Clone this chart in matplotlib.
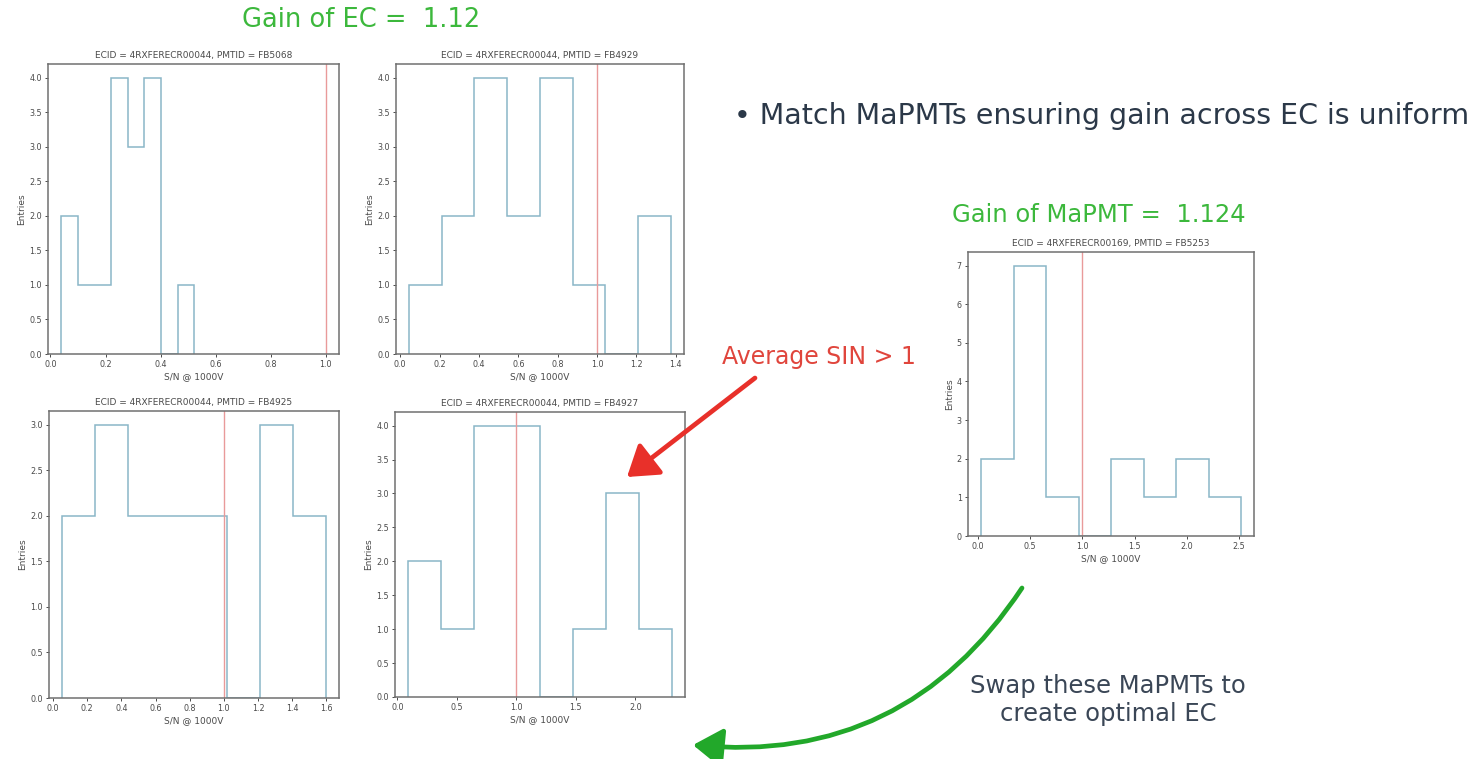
import matplotlib.pyplot as plt
from matplotlib.patches import FancyArrowPatch
from matplotlib.ticker import MultipleLocator

W, H = 1477, 759

# S/N histograms per MaPMT: bin edges and entries per bin
titles = [
    "ECID = 4RXFERECR00044, PMTID = FB5068",
    "ECID = 4RXFERECR00044, PMTID = FB4929",
    "ECID = 4RXFERECR00044, PMTID = FB4925",
    "ECID = 4RXFERECR00044, PMTID = FB4927",
    "ECID = 4RXFERECR00169, PMTID = FB5253",
]
edges_1 = [0.039, 0.100, 0.160, 0.220, 0.281, 0.341, 0.401, 0.462, 0.522]
counts_1 = [2, 1, 1, 4, 3, 4, 0, 1]
edges_2 = [0.045, 0.211, 0.377, 0.543, 0.710, 0.876, 1.042, 1.208, 1.375]
counts_2 = [1, 2, 4, 2, 4, 1, 0, 2]
edges_3 = [0.053, 0.246, 0.439, 0.632, 0.825, 1.018, 1.211, 1.404, 1.597]
counts_3 = [2, 3, 2, 2, 2, 0, 3, 2]
edges_4 = [0.090, 0.367, 0.644, 0.921, 1.198, 1.475, 1.752, 2.029, 2.306]
counts_4 = [2, 1, 4, 4, 0, 1, 3, 1]
edges_5 = [0.030, 0.341, 0.652, 0.963, 1.274, 1.585, 1.896, 2.207, 2.518]
counts_5 = [2, 7, 1, 0, 2, 1, 2, 1]
sn_cut = 1.0

hist_color = "#8ab6c8"
cut_color = "#e99a9a"
axis_color = "#707070"
text_color = "#4a4a4a"


def fig_box(left, top, right, bottom):
    return [left / W, 1 - bottom / H, (right - left) / W, (bottom - top) / H]


def fx(px):
    return px / W


def fy(py):
    return 1 - py / H


fig = plt.figure(figsize=(W / 100, H / 100), dpi=100)
fig.patch.set_facecolor("white")

panels = [
    (fig_box(48, 64, 339, 354), edges_1, counts_1, 0.2, 0.5),
    (fig_box(396, 64, 684, 354), edges_2, counts_2, 0.2, 0.5),
    (fig_box(49, 411, 339, 698), edges_3, counts_3, 0.2, 0.5),
    (fig_box(395, 412, 685, 697), edges_4, counts_4, 0.5, 0.5),
    (fig_box(968, 252, 1254, 536), edges_5, counts_5, 0.5, 1.0),
]

for (box, edges, counts, xstep, ystep), title in zip(panels, titles):
    ax = fig.add_axes(box)
    ax.stairs(counts, edges, color=hist_color, lw=1.1)
    ax.axvline(sn_cut, color=cut_color, lw=1.0)
    ax.xaxis.set_major_locator(MultipleLocator(xstep))
    ax.yaxis.set_major_locator(MultipleLocator(ystep))
    if ystep < 1:
        ax.yaxis.set_major_formatter("{x:.1f}")
    else:
        ax.yaxis.set_major_formatter("{x:.0f}")
    ax.xaxis.set_major_formatter("{x:.1f}")
    ax.set_title(title, fontsize=6.5, color=text_color, pad=4)
    ax.set_xlabel("S/N @ 1000V", fontsize=6.5, color=text_color, labelpad=2)
    ax.set_ylabel("Entries", fontsize=6.5, color=text_color, labelpad=2)
    ax.tick_params(labelsize=5.8, colors=text_color, length=2.5, width=0.7, pad=2)
    for s in ax.spines.values():
        s.set_color(axis_color)
        s.set_linewidth(1.1)

green = "#3cb83c"
fig.text(fx(361), fy(20), "Gain of EC =  1.12", color=green, fontsize=18.5,
         ha="center", va="center")
fig.text(fx(1099), fy(215), "Gain of MaPMT =  1.124", color=green, fontsize=17.5,
         ha="center", va="center")
fig.text(fx(1102), fy(116), "\u2022 Match MaPMTs ensuring gain across EC is uniform",
         color="#2b3848", fontsize=20.5, ha="center", va="center")
fig.text(fx(819), fy(357), "Average SIN > 1", color="#e0453c", fontsize=17,
         ha="center", va="center")
fig.text(fx(1108), fy(700), "Swap these MaPMTs to\ncreate optimal EC",
         color="#3a4656", fontsize=17.5, ha="center", va="center",
         linespacing=1.25)

# red pointer to the high S/N histogram
fig.add_artist(FancyArrowPatch(
    (fx(755), fy(378)), (fx(627), fy(477)), transform=fig.transFigure,
    arrowstyle="-|>,head_length=18,head_width=12", color="#e8302a",
    lw=3.4, shrinkA=0, shrinkB=0))

# green swap arrow
fig.add_artist(FancyArrowPatch(
    (fx(1022), fy(588)), (fx(693), fy(745)), transform=fig.transFigure,
    connectionstyle="arc3,rad=-0.3",
    arrowstyle="-|>,head_length=18,head_width=12", color="#22a82a",
    lw=3.4, shrinkA=0, shrinkB=0))

fig.savefig("out.png", dpi=100, facecolor="white")
